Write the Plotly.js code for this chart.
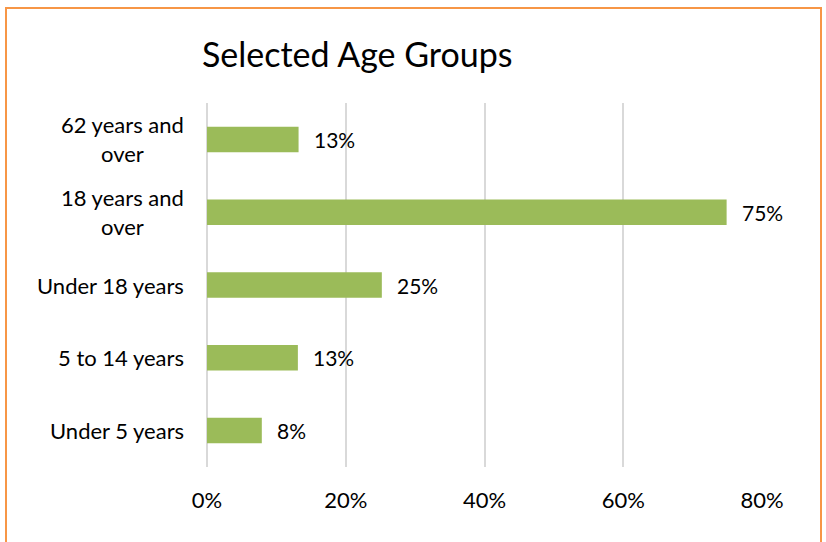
<!DOCTYPE html>
<html>
<head>
<meta charset="utf-8">
<script src="https://cdn.plot.ly/plotly-3.0.1.min.js"></script>
<style>
  html, body { margin: 0; padding: 0; background: #fff; }
  #wrap { position: relative; width: 826px; height: 542px; overflow: hidden; }
  #chart { position: absolute; left: 0; top: 0; width: 826px; height: 542px; }
  #frame { position: absolute; left: 5px; top: 7px; width: 817px; height: 560px;
           border: 2px solid #F79646; pointer-events: none; box-sizing: border-box; }
</style>
</head>
<body>
<div id="wrap">
  <div id="chart"></div>
  <div id="frame"></div>
</div>
<script>
// Data (top to bottom as shown)
const categories = ["62 years and over", "18 years and over", "Under 18 years", "5 to 14 years", "Under 5 years"];
const categoryLabels = ["62 years and<br>over", "18 years and<br>over", "Under 18 years", "5 to 14 years", "Under 5 years"];
const values = [13.2, 74.9, 25.2, 13.1, 7.9];
const tickVals = [0, 20, 40, 60, 80];
const tickText = ["0%", "20%", "40%", "60%", "80%"];

const FONT = "Lato, 'Open Sans', sans-serif";

const trace = {
  type: "bar",
  orientation: "h",
  y: categories,
  x: values,
  marker: { color: "#9BBB59" },
  width: 0.35,
  hoverinfo: "none"
};

const annotations = [];
categories.forEach((c, i) => {
  annotations.push({
    x: values[i], y: c, xref: "x", yref: "y",
    text: Math.round(values[i]) + "%",
    showarrow: false, xanchor: "left", yanchor: "middle", xshift: 13,
    font: { family: FONT, size: 21, color: "#000" }
  });
  annotations.push({
    x: 0, y: c, xref: "paper", yref: "y",
    text: categoryLabels[i],
    showarrow: false, xanchor: "right", yanchor: "middle", xshift: -21,
    align: "center",
    font: { family: FONT, size: 22, color: "#000" }
  });
});

const layout = {
  width: 826, height: 542,
  margin: { l: 207, r: 64, t: 103, b: 75 },
  paper_bgcolor: "rgba(0,0,0,0)",
  plot_bgcolor: "rgba(0,0,0,0)",
  showlegend: false,
  title: {
    text: "Selected Age Groups",
    font: { family: FONT, size: 34, color: "#000" },
    xref: "container", yref: "container",
    x: 202 / 826, xanchor: "left",
    y: 1 - 55 / 542, yanchor: "middle"
  },
  xaxis: {
    range: [0, 80],
    tickvals: tickVals,
    ticktext: tickText,
    showgrid: true, gridcolor: "#d9d9d9", gridwidth: 2,
    zeroline: true, zerolinecolor: "#d9d9d9", zerolinewidth: 2,
    showline: false,
    ticks: "", ticklabelstandoff: 18,
    tickfont: { family: FONT, size: 22, color: "#000" },
    fixedrange: true
  },
  yaxis: {
    type: "category",
    categoryorder: "array",
    categoryarray: categories.slice().reverse(),
    showticklabels: false,
    showgrid: false, zeroline: false, showline: false, ticks: "",
    fixedrange: true
  },
  annotations: annotations
};

Plotly.newPlot("chart", [trace], layout, { displayModeBar: false, staticPlot: true });
</script>
</body>
</html>
